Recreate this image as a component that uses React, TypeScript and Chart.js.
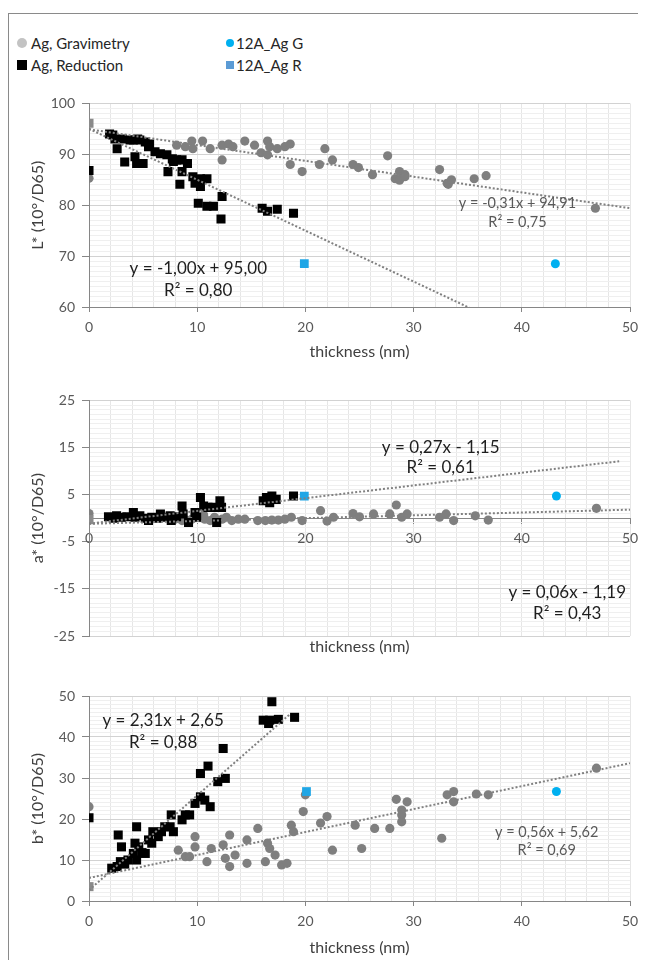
import React, { useEffect, useRef } from 'react';
import { Chart, registerables } from 'chart.js';

Chart.register(...registerables);

const FONT = "Lato, 'Open Sans', 'DejaVu Sans', sans-serif";
Chart.defaults.font.family = FONT;
Chart.defaults.color = '#595959';

// ---------- shared x axis ----------
const xRange = [0, 50];
const xMinorStep = 2;
const xMajorStep = 10;
const xTitle = 'thickness (nm)';

// ---------- series names ----------
const seriesNames = ['Ag, Gravimetry', 'Ag, Reduction', '12A_Ag G', '12A_Ag R'];

// ---------- L* panel ----------
const lRedX = [0, 1.9, 2.2, 2.4, 2.6, 3.1, 3.3, 3.8, 4.1, 4.25, 4.4, 4.7, 5.0, 5.2, 5.6, 6.1, 6.6, 7.2, 7.3, 7.7, 8.1, 8.4, 8.6, 8.6, 9.1, 9.6, 9.8, 10.1, 10.3, 10.3, 10.9, 10.9, 11.5, 12.2, 12.3, 16.0, 16.5, 17.4, 18.9, 4.5, 5.5, 7.8];
const lRedY = [86.8, 94.0, 93.8, 93.0, 91.1, 93.0, 88.5, 92.8, 92.8, 89.5, 88.2, 92.8, 88.2, 92.4, 92.0, 90.5, 90.1, 89.9, 86.6, 89.1, 88.9, 84.1, 88.9, 86.6, 88.2, 85.6, 84.3, 80.4, 85.2, 83.7, 85.2, 79.8, 79.8, 77.3, 81.7, 79.4, 78.8, 79.2, 78.4, 93.0, 91.5, 88.6];
const lGravX = [0, 8.1, 8.9, 9.5, 9.6, 10.5, 11.2, 12.3, 12.3, 12.9, 13.3, 14.4, 15.3, 15.9, 16.5, 16.5, 16.7, 17.4, 18.1, 18.6, 18.6, 19.7, 21.3, 21.8, 22.5, 24.4, 24.9, 26.2, 27.6, 28.3, 28.7, 28.7, 29.2, 29.2, 32.4, 33.1, 33.2, 33.5, 35.6, 36.7, 46.8];
const lGravY = [85.3, 91.8, 91.5, 92.6, 91.1, 92.6, 91.1, 91.8, 88.9, 92.0, 91.5, 92.6, 91.8, 90.3, 92.6, 89.9, 91.5, 91.1, 91.5, 92.0, 88.0, 86.6, 88.0, 91.1, 88.9, 88.0, 87.4, 86.0, 89.7, 85.2, 86.6, 84.9, 86.0, 85.6, 87.0, 84.3, 84.1, 85.0, 85.2, 85.8, 79.4];
const lSubX = [0];
const lSubY = [96.1];
const l12GX = [43.1];
const l12GY = [68.5];
const l12RX = [19.9];
const l12RY = [68.5];
const lRedTrendX = [0, 49];
const lRedTrendY = [95.0, 46.0];
const lGravTrendX = [0, 50];
const lGravTrendY = [94.91, 79.41];
const lRedEq = ['y = -1,00x + 95,00', 'R² = 0,80'];
const lGravEq = ['y = -0,31x + 94,91', 'R² = 0,75'];

// ---------- a* panel ----------
const aRedX = [1.8, 2.25, 2.55, 3.0, 3.5, 4.1, 4.25, 4.7, 5.2, 5.5, 5.8, 6.3, 6.6, 7.0, 7.5, 7.6, 8.1, 8.6, 8.7, 9.2, 9.8, 9.95, 10.3, 10.6, 11.0, 11.5, 11.8, 12.1, 12.25, 16.1, 16.4, 16.7, 16.9, 17.3, 18.9];
const aRedY = [0.3, 0.0, 0.5, 0.2, 0.3, 1.2, 0.2, 0.5, 0.0, -0.5, 0.2, 0.0, 0.9, 0.2, 0.5, -0.5, 0.3, 2.6, 0.9, -0.9, 1.2, 0.2, 4.4, 2.6, 2.3, 2.3, -0.9, 3.7, 2.3, 3.7, 4.4, 3.3, 4.7, 4.0, 4.7];
const aGravX = [0, 7.95, 8.6, 9.0, 9.5, 10.3, 10.6, 10.7, 11.2, 11.6, 12.3, 12.7, 13.2, 13.8, 14.4, 15.6, 16.3, 16.9, 17.5, 18.1, 18.7, 19.7, 21.4, 22.0, 22.6, 24.4, 25.0, 26.3, 27.8, 28.4, 28.9, 29.4, 32.4, 33.0, 33.7, 35.7, 36.9, 46.9];
const aGravY = [1.0, -0.2, -0.5, -0.4, -0.2, 0.2, 0.7, -0.2, -0.5, 0.2, -0.2, 0.2, -0.5, -0.2, -0.2, -0.5, -0.5, -0.4, -0.4, -0.2, 0.2, -0.5, 1.6, -0.6, 0.2, 1.0, 0.3, 0.9, 0.9, 2.8, 0.2, 0.9, 0.2, 0.9, -0.5, 0.5, -0.4, 2.1];
const aSubX = [0];
const aSubY = [-0.3];
const a12GX = [43.2];
const a12GY = [4.7];
const a12RX = [19.9];
const a12RY = [4.7];
const aRedTrendX = [0, 49];
const aRedTrendY = [-1.15, 12.08];
const aGravTrendX = [0, 50];
const aGravTrendY = [-1.19, 1.81];
const aRedEq = ['y = 0,27x - 1,15', 'R² = 0,61'];
const aGravEq = ['y = 0,06x - 1,19', 'R² = 0,43'];

// ---------- b* panel ----------
const bRedX = [0, 2.1, 2.6, 2.7, 2.9, 3.0, 3.6, 4.1, 4.25, 4.4, 4.4, 4.6, 5.2, 5.5, 5.8, 5.9, 6.4, 6.7, 7.0, 7.5, 7.6, 7.8, 8.6, 8.9, 9.3, 9.8, 10.3, 10.3, 10.7, 11.0, 11.2, 11.9, 12.4, 12.6, 16.1, 16.6, 16.7, 16.9, 17.5, 19.0, 3.3, 4.9];
const bRedY = [20.3, 8.0, 8.4, 16.1, 9.6, 13.2, 10.0, 11.6, 14.1, 10.0, 18.1, 13.2, 11.6, 14.9, 14.1, 16.9, 15.7, 16.9, 18.1, 18.1, 21.0, 16.9, 19.8, 21.0, 21.0, 23.8, 31.1, 25.4, 24.6, 32.9, 23.0, 29.1, 37.2, 29.9, 44.1, 43.3, 44.1, 48.6, 44.3, 44.8, 9.0, 11.8];
const bGravX = [0, 8.25, 8.9, 9.3, 9.8, 9.8, 10.9, 11.3, 12.4, 12.6, 13.0, 13.0, 13.5, 14.6, 14.6, 15.6, 16.3, 16.5, 16.7, 17.2, 17.8, 18.3, 18.7, 18.9, 19.8, 20.0, 21.4, 22.0, 22.5, 24.6, 25.2, 26.4, 27.8, 28.4, 28.9, 28.9, 28.9, 29.4, 32.6, 33.1, 33.7, 33.7, 35.8, 36.9, 46.9];
const bGravY = [23.0, 12.4, 10.8, 10.8, 15.7, 13.2, 9.6, 12.8, 13.7, 10.4, 8.4, 16.1, 11.2, 14.9, 9.2, 17.7, 9.6, 14.1, 12.8, 11.2, 8.8, 9.2, 18.5, 16.9, 21.8, 25.9, 19.0, 20.6, 12.4, 18.5, 12.8, 17.7, 17.7, 24.8, 22.2, 21.0, 19.3, 24.2, 15.3, 25.9, 26.7, 24.2, 26.1, 25.9, 32.4];
const bSubX = [0];
const bSubY = [3.5];
const b12GX = [43.2];
const b12GY = [26.7];
const b12RX = [20.1];
const b12RY = [26.7];
const bRedTrendX = [0, 18.5];
const bRedTrendY = [2.65, 45.4];
const bGravTrendX = [0, 50];
const bGravTrendY = [5.62, 33.62];
const bRedEq = ['y = 2,31x + 2,65', 'R² = 0,88'];
const bGravEq = ['y = 0,56x + 5,62', 'R² = 0,69'];

// ---------- styles ----------
const GRAV = '#7f7f7f';
const RED = '#000000';
const CYAN = '#00b0f0';
const CYAN_SQ = '#1fa6e6';
const SUB = '#8a8a8a';
const TREND = '#808080';
const AXIS = '#868686';
const TITLE = '#404040';
const EQ_DARK = '#1e1e1e';
const EQ_GRAY = '#595959';
const CLEAR = 'rgba(0,0,0,0)';

const toPts = (xs: number[], ys: number[]) => xs.map((x, i) => ({ x, y: ys[i] }));

interface EqLabel { x: number; y: number; lines: string[]; size: number; color: string; gap: number; }
interface PanelSpec {
  top: number; height: number; padTop: number; xHeight: number;
  yMin: number; yMax: number; yMajor: number; yMinor: number; yTitle: string;
  xAtZero: boolean;
  red: [number[], number[]]; grav: [number[], number[]]; sub: [number[], number[]];
  g12: [number[], number[]]; r12: [number[], number[]];
  redTrend: [number[], number[]]; gravTrend: [number[], number[]];
  labels: EqLabel[];
}

const eqPlugin = {
  id: 'eqLabels',
  afterDatasetsDraw(chart: any, _args: any, opts: any) {
    const items: EqLabel[] = (opts && opts.items) || [];
    const ctx = chart.ctx;
    const xs = chart.scales.x;
    const ys = chart.scales.y;
    ctx.save();
    items.forEach((it) => {
      ctx.font = `${it.size}px ${FONT}`;
      ctx.fillStyle = it.color;
      ctx.textAlign = 'center';
      ctx.textBaseline = 'middle';
      const px = xs.getPixelForValue(it.x);
      const py = ys.getPixelForValue(it.y);
      it.lines.forEach((ln, i) => ctx.fillText(ln, px, py + i * it.gap));
    });
    ctx.restore();
  },
};

function buildConfig(p: PanelSpec): any {
  const isMajorY = (v: number) => Math.abs((Math.round(v) - p.yMin) % p.yMajor) === 0;
  const isMajorX = (v: number) => Math.round(v) % xMajorStep === 0;

  const xScale: any = {
    type: 'linear',
    min: xRange[0],
    max: xRange[1],
    position: p.xAtZero ? { y: 0 } : 'bottom',
    ticks: {
      stepSize: xMinorStep, autoSkip: false, maxRotation: 0, padding: 7,
      color: '#595959', font: { size: 14 },
      callback: (v: number) => (isMajorX(v) ? String(v) : ''),
    },
    grid: {
      color: '#e6e6e6', lineWidth: 1, tickLength: 5,
      tickColor: (c: any) => (c.tick && isMajorX(c.tick.value) ? AXIS : CLEAR),
    },
    border: { color: AXIS, width: 1 },
    title: p.xAtZero
      ? { display: false }
      : { display: true, text: xTitle, color: TITLE, font: { size: 16 }, padding: { top: 0, bottom: 0 } },
  };
  if (!p.xAtZero) xScale.afterFit = (s: any) => { s.height = p.xHeight; };

  const scales: any = {
    x: xScale,
    y: {
      type: 'linear',
      min: p.yMin,
      max: p.yMax,
      ticks: {
        stepSize: p.yMinor, autoSkip: false, padding: 7,
        color: '#595959', font: { size: 14 },
        callback: (v: number) => (isMajorY(v) ? String(v) : ''),
      },
      grid: {
        color: (c: any) => (c.tick && isMajorY(c.tick.value) ? '#d2d2d2' : '#efefef'),
        lineWidth: 1, tickLength: 7,
        tickColor: (c: any) => (c.tick && isMajorY(c.tick.value) ? AXIS : CLEAR),
      },
      border: { color: AXIS, width: 1 },
      title: { display: true, text: p.yTitle, color: TITLE, font: { size: 16 }, padding: { top: 19, bottom: 0 } },
      afterFit: (s: any) => { s.width = 80; },
    },
  };
  if (p.xAtZero) {
    scales.x2 = {
      type: 'linear', min: xRange[0], max: xRange[1], position: 'bottom',
      grid: { display: false, drawTicks: false },
      border: { display: false },
      ticks: { display: false },
      title: { display: true, text: xTitle, color: TITLE, font: { size: 16 }, padding: { top: 0, bottom: 0 } },
      afterFit: (s: any) => { s.height = p.xHeight; },
    };
  }

  const trend = (d: [number[], number[]], label: string) => ({
    label, data: toPts(d[0], d[1]), showLine: true, borderColor: TREND, borderWidth: 2,
    borderDash: [2, 2], pointRadius: 0, pointHoverRadius: 0, fill: false, clip: 0, order: 0,
  });

  return {
    type: 'scatter',
    data: {
      datasets: [
        trend(p.redTrend, 'trend R'),
        trend(p.gravTrend, 'trend G'),
        { label: seriesNames[2], data: toPts(p.g12[0], p.g12[1]), pointStyle: 'circle', pointRadius: 4.5, backgroundColor: CYAN, borderColor: CYAN, borderWidth: 0, order: 1 },
        { label: seriesNames[3], data: toPts(p.r12[0], p.r12[1]), pointStyle: 'rect', pointRadius: 6.2, backgroundColor: CYAN_SQ, borderColor: CYAN_SQ, borderWidth: 0, order: 1 },
        { label: 'substrate', data: toPts(p.sub[0], p.sub[1]), pointStyle: 'rect', pointRadius: 6.4, backgroundColor: SUB, borderColor: SUB, borderWidth: 0, order: 2 },
        { label: seriesNames[1], data: toPts(p.red[0], p.red[1]), pointStyle: 'rect', pointRadius: 6.4, backgroundColor: RED, borderColor: RED, borderWidth: 0, order: 3 },
        { label: seriesNames[0], data: toPts(p.grav[0], p.grav[1]), pointStyle: 'circle', pointRadius: 4.6, backgroundColor: GRAV, borderColor: GRAV, borderWidth: 0, order: 4 },
      ],
    },
    options: {
      responsive: false,
      animation: false,
      events: [],
      layout: { padding: { top: p.padTop, right: 16, bottom: 0, left: 0 } },
      scales,
      plugins: {
        legend: { display: false },
        tooltip: { enabled: false },
        eqLabels: { items: p.labels },
      },
    },
    plugins: [eqPlugin],
  };
}

const panels: PanelSpec[] = [
  {
    top: 80, height: 273, padTop: 13, xHeight: 54,
    yMin: 60, yMax: 100, yMajor: 10, yMinor: 1, yTitle: 'L* (10°/D65)', xAtZero: false,
    red: [lRedX, lRedY], grav: [lGravX, lGravY], sub: [lSubX, lSubY],
    g12: [l12GX, l12GY], r12: [l12RX, l12RY],
    redTrend: [lRedTrendX, lRedTrendY], gravTrend: [lGravTrendX, lGravTrendY],
    labels: [
      { x: 10.1, y: 67.6, lines: lRedEq, size: 17, color: EQ_DARK, gap: 22 },
      { x: 39.6, y: 80.4, lines: lGravEq, size: 14.5, color: EQ_GRAY, gap: 19 },
    ],
  },
  {
    top: 377, height: 271, padTop: 14, xHeight: 20,
    yMin: -25, yMax: 25, yMajor: 10, yMinor: 1, yTitle: 'a* (10°/D65)', xAtZero: true,
    red: [aRedX, aRedY], grav: [aGravX, aGravY], sub: [aSubX, aSubY],
    g12: [a12GX, a12GY], r12: [a12RX, a12RY],
    redTrend: [aRedTrendX, aRedTrendY], gravTrend: [aGravTrendX, aGravTrendY],
    labels: [
      { x: 32.5, y: 14.9, lines: aRedEq, size: 17, color: EQ_DARK, gap: 20 },
      { x: 44.2, y: -15.7, lines: aGravEq, size: 17, color: EQ_DARK, gap: 21 },
    ],
  },
  {
    top: 672, height: 277, padTop: 16, xHeight: 56,
    yMin: 0, yMax: 50, yMajor: 10, yMinor: 1, yTitle: 'b* (10°/D65)', xAtZero: false,
    red: [bRedX, bRedY], grav: [bGravX, bGravY], sub: [bSubX, bSubY],
    g12: [b12GX, b12GY], r12: [b12RX, b12RY],
    redTrend: [bRedTrendX, bRedTrendY], gravTrend: [bGravTrendX, bGravTrendY],
    labels: [
      { x: 6.85, y: 44.1, lines: bRedEq, size: 17, color: EQ_DARK, gap: 22 },
      { x: 42.3, y: 16.8, lines: bGravEq, size: 14.5, color: EQ_GRAY, gap: 18 },
    ],
  },
];

function Panel({ spec }: { spec: PanelSpec }) {
  const ref = useRef<HTMLCanvasElement | null>(null);
  useEffect(() => {
    if (!ref.current) return;
    const chart = new Chart(ref.current, buildConfig(spec));
    return () => chart.destroy();
  }, [spec]);
  return (
    <canvas
      ref={ref}
      width={637}
      height={spec.height}
      style={{ position: 'absolute', left: 1, top: spec.top, width: 637, height: spec.height, display: 'block' }}
    />
  );
}

const legendItems = [
  { name: seriesNames[0], shape: 'circle', color: '#c3c3c3', size: 10, left: 9, top: 25, gap: 4 },
  { name: seriesNames[1], shape: 'square', color: '#000000', size: 10, left: 9, top: 47, gap: 4 },
  { name: seriesNames[2], shape: 'circle', color: CYAN, size: 8, left: 218, top: 25, gap: 2 },
  { name: seriesNames[3], shape: 'square', color: '#5b9bd5', size: 8, left: 218, top: 47, gap: 2 },
];

const FRAME = '#8a8a8a';

export default function App() {
  useEffect(() => {
    const prevHtml = document.documentElement.style.overflow;
    const prevBody = document.body.style.overflow;
    document.documentElement.style.overflow = 'hidden';
    document.body.style.overflow = 'hidden';
    return () => {
      document.documentElement.style.overflow = prevHtml;
      document.body.style.overflow = prevBody;
    };
  }, []);
  return (
    <div style={{ position: 'relative', width: 630, height: 952, fontFamily: FONT }}>
      <div style={{ position: 'absolute', left: 0, top: 5, width: 638, height: 1, background: FRAME }} />
      <div style={{ position: 'absolute', left: 0, top: 5, width: 1, height: 955, background: FRAME }} />
      {legendItems.map((it) => (
        <div
          key={it.name}
          style={{ position: 'absolute', left: it.left, top: it.top, height: 20, display: 'flex', alignItems: 'center', fontSize: 15, color: '#262626', whiteSpace: 'nowrap' }}
        >
          <span
            style={{ display: 'inline-block', width: it.size, height: it.size, background: it.color, borderRadius: it.shape === 'circle' ? '50%' : 0, marginRight: it.gap }}
          />
          <span>{it.name}</span>
        </div>
      ))}
      {panels.map((p, i) => (
        <Panel key={i} spec={p} />
      ))}
    </div>
  );
}
